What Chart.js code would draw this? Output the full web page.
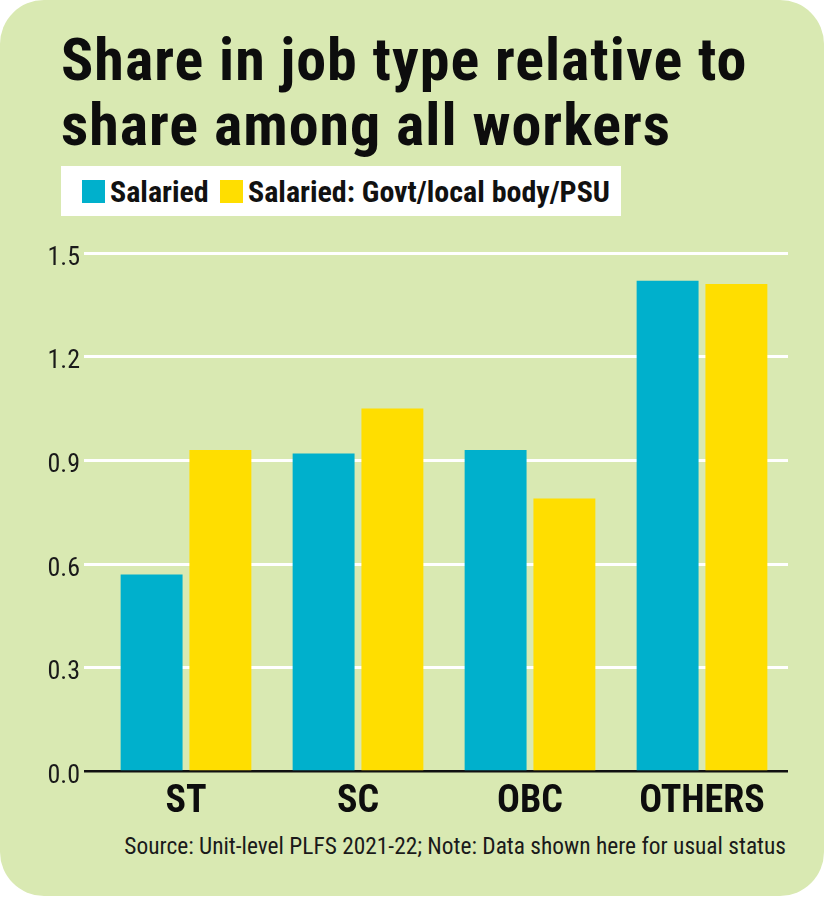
<!DOCTYPE html>
<html>
<head>
<meta charset="utf-8">
<script src="https://cdn.jsdelivr.net/npm/chart.js@4.4.1/dist/chart.umd.min.js"></script>
<style>
  html, body { margin:0; padding:0; background:#ffffff; }
  body { width:827px; height:898px; position:relative; overflow:hidden; }
  #card { position:absolute; left:0; top:0; width:824px; height:896px; background:#d9e9b2; border-radius:44px; }
  .nar { font-family:"Liberation Sans Narrow","Roboto Condensed","DejaVu Sans Condensed",sans-serif; }
  #title { position:absolute; left:61px; top:27px; font-weight:bold; font-size:60px; line-height:65px; color:#0d0d0d; letter-spacing:1px; white-space:nowrap; }
  #legend { position:absolute; left:61px; top:166px; width:560px; height:50px; background:#fff; }
  .item { position:absolute; top:0; height:50px; display:flex; align-items:center; font-weight:bold; font-size:30px; color:#111; white-space:nowrap; }
  .sw { display:inline-block; width:23px; height:23px; margin-right:5px; }
  #src { position:absolute; right:41px; top:832px; font-size:23.4px; color:#1a1a1a; white-space:nowrap; }
  #wrap { position:absolute; left:0; top:230px; width:827px; height:600px; }
</style>
</head>
<body>
<div id="card"></div>
<div id="title" class="nar">Share in job type relative to<br>share among all workers</div>
<div id="legend" class="nar"></div>
<div id="wrap"><canvas id="c"></canvas></div>
<div id="src" class="nar">Source: Unit-level PLFS 2021-22; Note: Data shown here for usual status</div>
<script>
const categories = ['ST', 'SC', 'OBC', 'OTHERS'];
const seriesNames = ['Salaried', 'Salaried: Govt/local body/PSU'];
const salaried = [0.57, 0.92, 0.93, 1.42];
const salariedGovt = [0.93, 1.05, 0.79, 1.41];
const yTicks = [0.0, 0.3, 0.6, 0.9, 1.2, 1.5];
const colors = ['#00b0cc', '#ffde00'];

// HTML legend built from the series names
const lg = document.getElementById('legend');
const lgPos = [21, 159];
seriesNames.forEach((n, i) => {
  const d = document.createElement('div');
  d.className = 'item';
  d.style.left = lgPos[i] + 'px';
  d.innerHTML = '<span class="sw" style="background:' + colors[i] + '"></span>' + n;
  lg.appendChild(d);
});

const FONT = '"Liberation Sans Narrow","Roboto Condensed","DejaVu Sans Condensed",sans-serif';

new Chart(document.getElementById('c'), {
  type: 'bar',
  data: {
    labels: categories,
    datasets: [
      { label: seriesNames[0], data: salaried, backgroundColor: colors[0] },
      { label: seriesNames[1], data: salariedGovt, backgroundColor: colors[1] }
    ]
  },
  options: {
    responsive: true,
    maintainAspectRatio: false,
    animation: false,
    categoryPercentage: 0.8,
    barPercentage: 0.9,
    layout: { padding: { left: 40, right: 39, top: 23, bottom: 5 } },
    plugins: { legend: { display: false }, title: { display: false }, tooltip: { enabled: false } },
    scales: {
      x: {
        grid: { display: false },
        border: { display: false },
        ticks: { color: '#0d0d0d', font: { family: FONT, size: 38, weight: 'bold' }, padding: 0 }
      },
      y: {
        min: 0, max: 1.5,
        afterFit: (s) => { s.width = 60; },
        afterBuildTicks: (s) => { s.ticks = yTicks.map(v => ({ value: v })); },
        border: { display: false },
        grid: {
          color: (ctx) => (ctx.tick && ctx.tick.value === 0 ? '#111111' : '#ffffff'),
          lineWidth: (ctx) => (ctx.tick && ctx.tick.value === 0 ? 2.5 : 3),
          drawTicks: true,
          tickLength: 16
        },
        ticks: {
          color: '#1a1a1a',
          font: { family: FONT, size: 26 },
          padding: 4,
          labelOffset: 5,
          callback: (v) => Number(v).toFixed(1)
        }
      }
    }
  }
});
</script>
</body>
</html>
